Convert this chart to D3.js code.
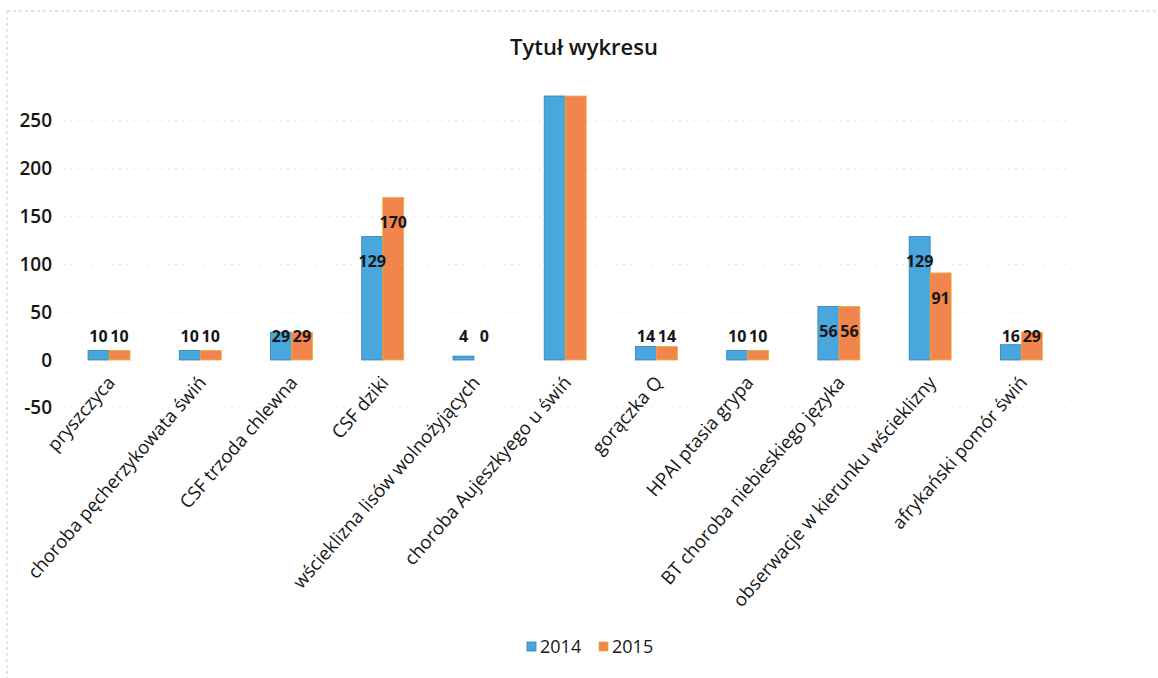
<!DOCTYPE html>
<html><head><meta charset="utf-8">
<script src="https://cdn.jsdelivr.net/npm/d3@7"></script>
<style>body{margin:0;background:#fff}svg{display:block}text{font-family:"Open Sans",sans-serif;fill:#161616}</style>
</head><body>
<svg id="c" width="1158" height="678"></svg>
<script>
const categories = ["pryszczyca","choroba pęcherzykowata świń","CSF trzoda chlewna","CSF dziki","wścieklizna lisów wolnożyjących","choroba Aujeszkyego  u świń","gorączka Q","HPAI ptasia grypa","BT choroba niebieskiego języka","obserwacje w kierunku wścieklizny","afrykański pomór świń"];
const series = ["2014","2015"];
const values2014 = [10,10,29,129,4,276,14,10,56,129,16];
const values2015 = [10,10,29,170,0,276,14,10,56,91,29];
const showLabel = [true,true,true,true,true,false,true,true,true,true,true];
const yTicks = [-50,0,50,100,150,200,250];
const colors = ["#48a8de","#f2844d"];
const strokes = ["#2f7fb6","#eab03a"];

const svg = d3.select("#c");
// scanned frame
svg.append("line").attr("x1",7).attr("x2",1158).attr("y1",11).attr("y2",11).attr("stroke","#bbb").attr("stroke-dasharray","3,3").attr("stroke-width",0.8);
svg.append("line").attr("x1",7).attr("x2",7).attr("y1",11).attr("y2",678).attr("stroke","#bbb").attr("stroke-dasharray","3,3").attr("stroke-width",0.8);

const x0 = d3.scaleBand().domain(categories).range([63.4,1067]).paddingInner(0.54).paddingOuter(0.27);
const x1 = d3.scaleBand().domain(series).range([0,x0.bandwidth()]);
const y = d3.scaleLinear().domain([-50,276]).range([407.8,96]);

svg.append("text").attr("x",584).attr("y",55).attr("text-anchor","middle").attr("font-size",22).attr("font-weight",600).text("Tytuł wykresu");

// gridlines
svg.append("g").selectAll("line").data(yTicks).join("line")
  .attr("x1",63).attr("x2",1067).attr("y1",d=>y(d)).attr("y2",d=>y(d))
  .attr("stroke","#e6e6e6").attr("stroke-dasharray","2,5").attr("stroke-width",1);

const yAxis = svg.append("g").attr("transform","translate(52,0)")
  .call(d3.axisLeft(y).tickValues(yTicks).tickSize(0).tickPadding(0).tickFormat(d=>String(d)));
yAxis.select(".domain").remove();
yAxis.selectAll("text").attr("font-size",19).attr("font-weight",600).attr("fill","#161616").style("font-family","'Open Sans',sans-serif");

const data = categories.map((c,i)=>({c, i, vals:[values2014[i],values2015[i]]}));
const g = svg.append("g").selectAll("g").data(data).join("g").attr("transform",d=>`translate(${x0(d.c)},0)`);
g.selectAll("rect").data(d=>d.vals.map((v,k)=>({v,k,s:series[k]}))).join("rect")
  .attr("x",d=>x1(d.s)).attr("width",x1.bandwidth())
  .attr("y",d=>y(Math.max(0,d.v))).attr("height",d=>Math.abs(y(0)-y(d.v)))
  .attr("fill",d=>colors[d.k]).attr("stroke",d=>strokes[d.k]).attr("stroke-width",d=>d.v>0?0.8:0);
g.filter(d=>showLabel[d.i]).selectAll("text").data(d=>d.vals.map((v,k)=>({v,k,s:series[k]}))).join("text")
  .attr("x",d=>x1(d.s)+x1.bandwidth()/2)
  .attr("y",d=>Math.min(y(d.v)+25,y(25)))
  .attr("dy","0.35em").attr("text-anchor","middle").attr("font-size",16).attr("font-weight",700)
  .text(d=>d.v);

// category labels
svg.append("g").selectAll("text").data(categories).join("text")
  .attr("transform",d=>`translate(${x0(d)+x0.bandwidth()/2+2},${379}) rotate(-49)`)
  .attr("text-anchor","end").attr("dy","0.35em").attr("font-size",18.5).text(d=>d);

// legend
const lg = svg.append("g");
const lx = [527,599];
series.forEach((s,k)=>{
  lg.append("rect").attr("x",lx[k]).attr("y",642).attr("width",9).attr("height",9).attr("fill",colors[k]).attr("stroke",strokes[k]).attr("stroke-width",0.8);
  lg.append("text").attr("x",lx[k]+13).attr("y",646.5).attr("dy","0.35em").attr("font-size",18).attr("font-weight",500).text(s);
});
</script>
</body></html>
